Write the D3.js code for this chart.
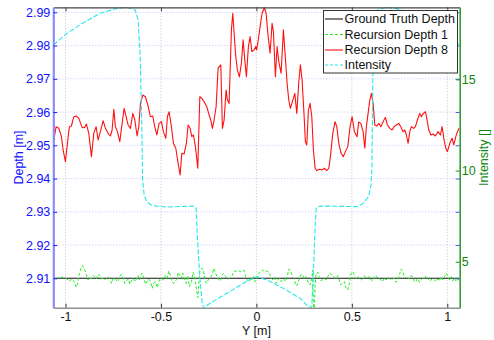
<!DOCTYPE html>
<html><head><meta charset="utf-8">
<script src="https://cdn.jsdelivr.net/npm/d3@7"></script>
<style>
body{margin:0;background:#fff;}
svg{display:block;font-family:"Liberation Sans",Arial,sans-serif;}
</style></head>
<body><svg id="c" width="494" height="340"></svg>
<script>
// ---- data ----
const xTicks = [-1, -0.5, 0, 0.5, 1];
const xTickLabels = ["-1", "-0.5", "0", "0.5", "1"];
const depthTicks = [2.91, 2.92, 2.93, 2.94, 2.95, 2.96, 2.97, 2.98, 2.99];
const depthTickLabels = ["2.91","2.92","2.93","2.94","2.95","2.96","2.97","2.98","2.99"];
const intensityTicks = [5, 10, 15];
const intensityTickLabels = ["5", "10", "15"];
const seriesNames = ["Ground Truth Depth", "Recursion Depth 1", "Recursion Depth 8", "Intensity"];

const groundTruthX = [-1.064, 1.065];
const groundTruthDepth = [2.91, 2.91];

const rd1X = [-1.070,-1.056,-1.044,-1.032,-1.018,-1.006,-0.992,-0.979,-0.969,-0.957,-0.944,-0.936,-0.927,-0.917,-0.910,-0.901,-0.890,-0.882,-0.875,-0.864,-0.855,-0.847,-0.838,-0.829,-0.820,-0.812,-0.803,-0.794,-0.786,-0.777,-0.768,-0.759,-0.751,-0.742,-0.733,-0.725,-0.716,-0.707,-0.698,-0.690,-0.681,-0.672,-0.663,-0.655,-0.646,-0.637,-0.628,-0.620,-0.613,-0.606,-0.599,-0.590,-0.581,-0.573,-0.564,-0.555,-0.546,-0.538,-0.529,-0.520,-0.511,-0.503,-0.494,-0.485,-0.477,-0.468,-0.459,-0.450,-0.442,-0.433,-0.424,-0.415,-0.410,-0.403,-0.394,-0.386,-0.377,-0.368,-0.360,-0.351,-0.340,-0.332,-0.323,-0.314,-0.307,-0.297,-0.288,-0.279,-0.271,-0.262,-0.253,-0.244,-0.232,-0.223,-0.215,-0.206,-0.197,-0.188,-0.180,-0.171,-0.162,-0.154,-0.145,-0.136,-0.127,-0.119,-0.110,-0.101,-0.092,-0.084,-0.075,-0.066,-0.058,-0.049,-0.040,-0.031,-0.023,-0.014,
-0.007,0.002,0.011,0.019,0.032,0.042,0.054,0.067,0.077,0.086,0.094,0.103,0.112,0.121,0.129,0.142,0.154,0.163,0.171,0.180,0.189,0.198,0.206,0.215,0.224,0.232,0.241,0.250,0.259,0.267,0.273,0.281,0.290,0.295,0.301,0.308,0.313,0.322,0.330,0.339,0.348,0.356,0.365,0.374,0.383,0.391,0.400,0.409,0.418,0.426,0.435,0.444,0.452,0.461,0.470,0.479,0.487,0.496,0.505,0.514,0.522,0.531,0.540,0.549,0.557,0.566,0.575,0.583,0.592,0.601,0.610,0.618,0.627,0.636,0.645,0.653,0.662,0.671,0.679,0.688,0.697,0.706,0.714,0.723,0.732,0.741,0.749,0.758,0.767,0.776,0.784,0.793,0.802,0.810,0.819,0.828,0.837,0.845,0.854,0.863,0.872,0.880,0.889,0.898,0.906,0.915,0.924,0.933,0.941,0.950,0.959,0.968,0.976,0.985,0.994,1.002,1.011,1.020,1.029,1.037,1.046,1.055,1.062];
const rd1Depth = [2.9092,2.9094,2.9100,2.9103,2.9104,2.9100,2.9098,2.9090,2.9098,2.9092,2.9073,2.9085,2.9115,2.9135,2.9138,2.9128,2.9110,2.9095,2.9102,2.9098,2.9108,2.9105,2.9098,2.9112,2.9108,2.9098,2.9100,2.9095,2.9100,2.9105,2.9100,2.9085,2.9098,2.9102,2.9093,2.9090,2.9105,2.9112,2.9100,2.9085,2.9092,2.9098,2.9082,2.9092,2.9100,2.9090,2.9098,2.9108,2.9095,2.9110,2.9115,2.9102,2.9082,2.9090,2.9098,2.9090,2.9070,2.9085,2.9090,2.9072,2.9090,2.9100,2.9098,2.9095,2.9108,2.9100,2.9122,2.9108,2.9088,2.9085,2.9092,2.9098,2.9118,2.9110,2.9100,2.9115,2.9095,2.9085,2.9108,2.9075,2.9090,2.9118,2.9105,2.9070,2.9042,2.9120,2.9130,2.9128,2.9100,2.9085,2.9095,2.9100,2.9110,2.9130,2.9118,2.9105,2.9095,2.9092,2.9110,2.9115,2.9105,2.9100,2.9098,2.9102,2.9108,2.9120,2.9122,2.9122,2.9123,2.9120,2.9122,2.9125,2.9108,2.9095,2.9090,2.9100,2.9098,2.9105,
2.9090,2.9100,2.9115,2.9118,2.9125,2.9120,2.9122,2.9118,2.9100,2.9095,2.9102,2.9085,2.9095,2.9100,2.9090,2.9098,2.9090,2.9110,2.9128,2.9120,2.9105,2.9098,2.9078,2.9080,2.9098,2.9110,2.9112,2.9098,2.9105,2.9095,2.9085,2.9080,2.9100,2.9125,2.8950,2.9085,2.9115,2.9118,2.9102,2.9092,2.9098,2.9100,2.9095,2.9105,2.9115,2.9112,2.9110,2.9100,2.9105,2.9108,2.9092,2.9080,2.9085,2.9090,2.9070,2.9065,2.9085,2.9115,2.9120,2.9108,2.9098,2.9105,2.9100,2.9095,2.9098,2.9108,2.9100,2.9102,2.9105,2.9095,2.9092,2.9105,2.9108,2.9100,2.9098,2.9095,2.9090,2.9102,2.9095,2.9102,2.9100,2.9095,2.9098,2.9100,2.9088,2.9098,2.9110,2.9128,2.9122,2.9100,2.9105,2.9102,2.9098,2.9108,2.9105,2.9090,2.9092,2.9100,2.9088,2.9095,2.9100,2.9098,2.9108,2.9100,2.9092,2.9095,2.9100,2.9095,2.9090,2.9098,2.9092,2.9105,2.9095,2.9105,2.9115,2.9108,2.9095,2.9105,2.9092,2.9102,2.9090,2.9095,2.9098];

const rd8X = [-1.0613,-1.0492,-1.0351,-1.0215,-1.0126,-1.0005,-0.9880,-0.9796,-0.9691,-0.9565,-0.9445,-0.9303,-0.9130,-0.9010,-0.8905,-0.8780,-0.8643,-0.8518,-0.8397,-0.8292,-0.8172,-0.8030,-0.7910,-0.7768,-0.7648,-0.7559,-0.7470,-0.7386,-0.7281,-0.7156,-0.7035,-0.6930,-0.6826,-0.6721,-0.6600,-0.6475,-0.6370,-0.6249,-0.6160,-0.6076,-0.5951,-0.5815,-0.5673,-0.5553,-0.5427,-0.5333,-0.5217,-0.5097,-0.4976,-0.4872,-0.4746,-0.4662,-0.4573,-0.4453,-0.4348,-0.4222,-0.4102,-0.3997,-0.3908,-0.3787,-0.3667,-0.3578,-0.3473,-0.3384,-0.3300,-0.3195,-0.3070,-0.2965,-0.2860,-0.2740,-0.2598,-0.2478,-0.2389,-0.2305,-0.2216,-0.2111,-0.2006,-0.1865,-0.1781,-0.1692,-0.1587,-0.1519,-0.1430,-0.1310,-0.1236,-0.1168,-0.1079,-0.0995,-0.0891,-0.0786,-0.0697,-0.0608,-0.0524,-0.0419,-0.0330,-0.0241,-0.0120,-0.0031,0.0010,0.0073,0.0194,0.0299,0.0419,0.0508,0.0597,0.0718,0.0822,0.0891,0.0995,0.1084,0.1173,0.1294,0.1414,0.1519,0.1608,0.1697,0.1781,0.1907,0.2012,0.2116,0.2221,0.2305,0.2394,0.2483,0.2567,0.2640,0.2724,0.2813,0.2902,0.2986,0.3075,0.3164,0.3300,0.3442,0.3562,0.3688,0.3793,0.3876,0.4002,0.4123,0.4212,0.4316,0.4437,0.4557,0.4662,0.4788,0.4908,0.5013,0.5134,0.5275,0.5354,0.5469,0.5589,0.5678,0.5762,0.5851,0.5940,0.6024,0.6113,0.6202,0.6307,0.6412,0.6517,0.6637,0.6758,0.6862,0.6988,0.7108,0.7213,0.7334,0.7459,0.7564,0.7685,0.7774,0.7858,0.7947,0.8036,0.8119,0.8245,0.8329,0.8434,0.8559,0.8643,0.8748,0.8853,0.8926,0.9031,0.9136,0.9256,0.9377,0.9518,0.9638,0.9728,0.9832,0.9921,1.0005,1.0131,1.0251,1.0340,1.0445,1.0529,1.0618];
const rd8Depth = [2.9516,2.9556,2.9551,2.9526,2.9486,2.9451,2.9516,2.9556,2.9558,2.9586,2.9588,2.9581,2.9554,2.9553,2.9564,2.9536,2.9466,2.9536,2.9556,2.9516,2.9541,2.9574,2.9551,2.9536,2.9528,2.9546,2.9608,2.9556,2.9541,2.9511,2.9566,2.9611,2.9586,2.9561,2.9551,2.9596,2.9576,2.9528,2.9556,2.9626,2.9651,2.9646,2.9618,2.9586,2.9588,2.9558,2.9531,2.9566,2.9571,2.9541,2.9521,2.9586,2.9601,2.9556,2.9506,2.9491,2.9446,2.9411,2.9476,2.9474,2.9506,2.9561,2.9551,2.9526,2.9531,2.9496,2.9431,2.9646,2.9641,2.9631,2.9616,2.9591,2.9576,2.9551,2.9576,2.9616,2.9732,2.9742,2.9551,2.9576,2.9666,2.9636,2.9626,2.9847,2.9897,2.9837,2.9766,2.9726,2.9706,2.9747,2.9817,2.9757,2.9706,2.9797,2.9827,2.9782,2.9787,2.9797,2.9787,2.9807,2.9857,2.9897,2.9915,2.9897,2.9837,2.9777,2.9867,2.9842,2.9706,2.9797,2.9751,2.9717,2.9847,2.9762,2.9686,2.9636,2.9611,2.9636,2.9656,2.9596,2.9691,2.9742,2.9696,2.9606,2.9511,2.9501,2.9606,2.9626,2.9586,2.9486,2.9431,2.9424,2.9428,2.9426,2.9431,2.9424,2.9431,2.9466,2.9536,2.9571,2.9556,2.9506,2.9476,2.9466,2.9481,2.9496,2.9556,2.9586,2.9541,2.9526,2.9570,2.9566,2.9541,2.9491,2.9556,2.9596,2.9636,2.9656,2.9626,2.9561,2.9558,2.9566,2.9556,2.9571,2.9584,2.9561,2.9551,2.9546,2.9556,2.9561,2.9566,2.9556,2.9541,2.9546,2.9531,2.9506,2.9541,2.9556,2.9551,2.9556,2.9576,2.9596,2.9586,2.9596,2.9601,2.9581,2.9546,2.9531,2.9534,2.9528,2.9541,2.9531,2.9556,2.9516,2.9491,2.9481,2.9506,2.9521,2.9501,2.9526,2.9541,2.9551];

const intensityX = [-1.063,-0.993,-0.908,-0.819,-0.731,-0.679,-0.635,-0.620,-0.609,-0.601,-0.596,-0.588,-0.574,-0.552,-0.522,-0.469,-0.330,-0.316,-0.309,-0.299,-0.286,-0.278,-0.243,-0.155,-0.068,0.002,0.054,0.141,0.229,0.272,0.290,0.299,0.307,0.313,0.334,0.369,0.526,0.560,0.587,0.599,0.605,0.609,0.611,0.620,0.635,0.679,0.731,0.819,0.908,0.993,1.065];
const intensityVal = [16.88,17.52,18.09,18.62,18.89,18.95,18.80,18.25,16.33,12.77,9.48,8.66,8.29,8.11,8.05,8.00,8.05,7.93,6.37,4.54,2.90,2.46,2.72,3.27,3.82,4.18,4.00,3.54,2.99,2.53,2.49,4.54,6.74,7.94,8.05,8.05,8.02,8.20,8.56,9.11,10.03,13.87,16.60,18.25,18.80,18.95,18.89,18.62,18.09,17.52,16.88];

// ---- layout ----
const L = 53.3, R = 459.7, T = 7.3, B = 307.7;
const svg = d3.select("#c");
const x = d3.scaleLinear().domain([-1.064, 1.065]).range([L, R]);
const yL = d3.scaleLinear().domain([2.90116, 2.9915]).range([B, T]);
const yR = d3.scaleLinear().domain([2.48, 18.95]).range([B, T]);

const zipPts = (xs, ys) => d3.range(Math.min(xs.length, ys.length)).map(i => [xs[i], ys[i]]);

svg.append("defs").append("clipPath").attr("id","clip")
  .append("rect").attr("x", L).attr("y", T).attr("width", R-L).attr("height", B-T);

// grid
const grid = svg.append("g");
grid.selectAll("line.vg").data(xTicks).join("line")
  .attr("x1", d=>x(d)).attr("x2", d=>x(d)).attr("y1", T).attr("y2", B)
  .attr("stroke", "#c0c0c0").attr("stroke-width", 1).attr("stroke-dasharray", "1,2");
grid.selectAll("line.hg").data(depthTicks).join("line")
  .attr("x1", L).attr("x2", R).attr("y1", d=>yL(d)).attr("y2", d=>yL(d))
  .attr("stroke", "#c4c4f4").attr("stroke-width", 1).attr("stroke-dasharray", "1,2");

// data
const plot = svg.append("g").attr("clip-path", "url(#clip)");
const lineL = d3.line().x(d=>x(d[0])).y(d=>yL(d[1]));
const lineR = d3.line().x(d=>x(d[0])).y(d=>yR(d[1]));

plot.append("path").datum(zipPts(groundTruthX, groundTruthDepth)).attr("d", lineL)
  .attr("fill","none").attr("stroke","#1a1a1a").attr("stroke-width",1.1);
plot.append("path").datum(zipPts(rd1X, rd1Depth)).attr("d", lineL)
  .attr("fill","none").attr("stroke","#22ee22").attr("stroke-width",1).attr("stroke-dasharray","3,2");
plot.append("path").datum(zipPts(rd8X, rd8Depth)).attr("d", lineL)
  .attr("fill","none").attr("stroke","#ff1010").attr("stroke-width",1.1).attr("stroke-linejoin","round");
plot.append("path").datum(zipPts(intensityX, intensityVal)).attr("d", lineR)
  .attr("fill","none").attr("stroke","#22e8e8").attr("stroke-width",1.1).attr("stroke-dasharray","5,2");

// axes
const fs = "12.5px";
// bottom
const gB = svg.append("g").attr("transform", `translate(0,${B})`)
  .call(d3.axisBottom(x).tickValues(xTicks).tickFormat((d,i)=>xTickLabels[i]).tickSize(-4).tickPadding(4).tickSizeOuter(0));
gB.select(".domain").attr("stroke","#909090").attr("stroke-width",1.6);
gB.selectAll(".tick line").attr("stroke","#333");
gB.selectAll("text").attr("fill","#111").style("font-size",fs).style("font-family","Liberation Sans, Arial, sans-serif");
// top
const gT = svg.append("g").attr("transform", `translate(0,${T})`)
  .call(d3.axisTop(x).tickValues(xTicks).tickFormat("").tickSize(-4).tickSizeOuter(0));
gT.select(".domain").attr("stroke","#444").attr("stroke-width",1.2);
gT.selectAll(".tick line").attr("stroke","#444");
// left
const gL = svg.append("g").attr("transform", `translate(${L},0)`)
  .call(d3.axisLeft(yL).tickValues(depthTicks).tickFormat((d,i)=>depthTickLabels[i]).tickSize(-4).tickPadding(3).tickSizeOuter(0));
gL.select(".domain").attr("stroke","#8c8cf8").attr("stroke-width",2.2);
gL.selectAll(".tick line").attr("stroke","#2020ff");
gL.selectAll("text").attr("fill","#1010ff").style("font-size",fs).style("font-family","Liberation Sans, Arial, sans-serif");
// right: depth ticks mirrored (blue)
const gR2 = svg.append("g").attr("transform", `translate(${R},0)`)
  .call(d3.axisRight(yL).tickValues(depthTicks).tickFormat("").tickSize(-4).tickSizeOuter(0));
gR2.select(".domain").remove();
gR2.selectAll(".tick line").attr("stroke","#5050ff");
// right intensity axis
const gR = svg.append("g").attr("transform", `translate(${R},0)`)
  .call(d3.axisRight(yR).tickValues(intensityTicks).tickFormat((d,i)=>intensityTickLabels[i]).tickSize(-4).tickPadding(2).tickSizeOuter(0));
gR.select(".domain").attr("stroke","#30a030").attr("stroke-width",1.6);
gR.selectAll(".tick line").attr("stroke","#209020");
gR.selectAll("text").attr("fill","#118811").style("font-size",fs).style("font-family","Liberation Sans, Arial, sans-serif");

// axis labels
svg.append("text").attr("x", (L+R)/2).attr("y", 334.5).attr("text-anchor","middle")
  .style("font-size",fs).attr("fill","#111").text("Y [m]");
svg.append("text").attr("transform",`translate(22.5,${(T+B)/2}) rotate(-90)`).attr("text-anchor","middle")
  .style("font-size",fs).attr("fill","#1010ff").text("Depth [m]");
svg.append("text").attr("transform",`translate(487.5,${(T+B)/2}) rotate(-90)`).attr("text-anchor","middle")
  .style("font-size",fs).attr("fill","#118811").text("Intensity []");

// legend
const lg = svg.append("g");
lg.append("rect").attr("x",323.5).attr("y",10.5).attr("width",134).attr("height",62.5)
  .attr("fill","#fff").attr("stroke","#333").attr("stroke-width",1);
const lgStyles = [
  {c:"#1a1a1a", dash:null},
  {c:"#22ee22", dash:"3,2"},
  {c:"#ff1010", dash:null},
  {c:"#22e8e8", dash:"3,2"}
];
const lgY = [19, 34.5, 50, 65];
seriesNames.forEach((name,i)=>{
  lg.append("line").attr("x1",325).attr("x2",343).attr("y1",lgY[i]).attr("y2",lgY[i])
    .attr("stroke",lgStyles[i].c).attr("stroke-width",1.1).attr("stroke-dasharray",lgStyles[i].dash);
  lg.append("text").attr("x",344.5).attr("y",lgY[i]).attr("dy","0.35em")
    .style("font-size",fs).attr("fill","#111").text(name);
});
</script></body></html>
